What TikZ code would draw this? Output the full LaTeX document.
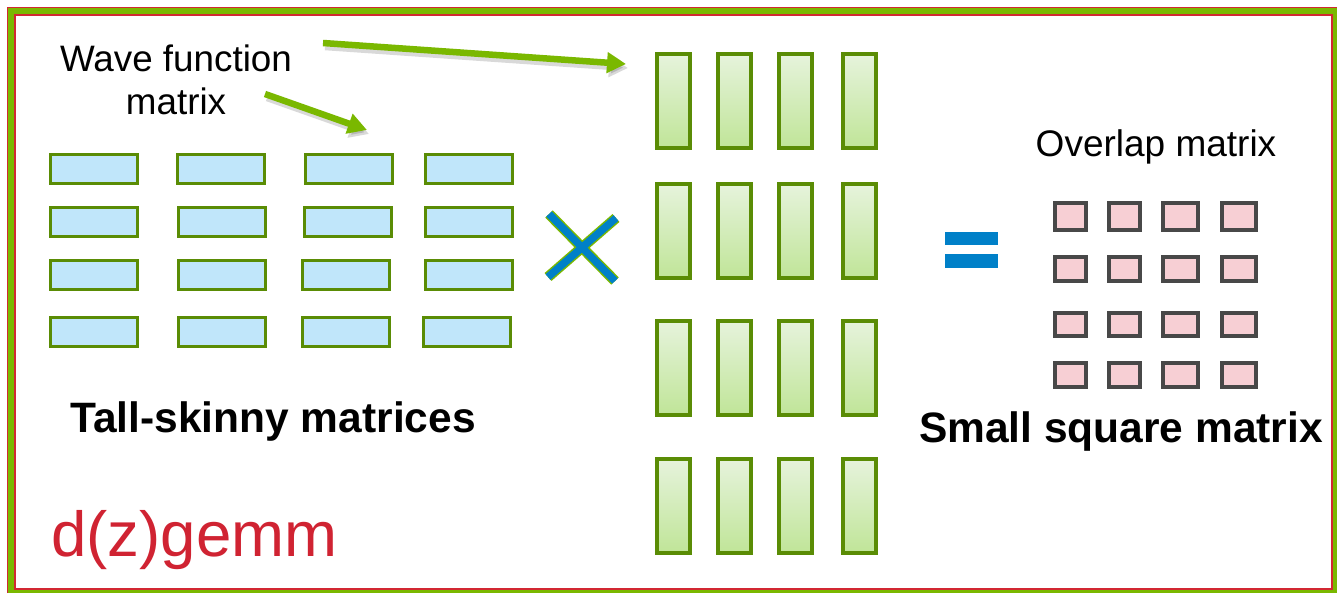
\documentclass[tikz,border=0pt]{standalone}
\usepackage{fontspec}
\setmainfont{Liberation Sans}
\usetikzlibrary{arrows.meta}
\definecolor{framegreen}{RGB}{122,184,0}
\definecolor{framered}{RGB}{210,40,50}
\definecolor{rectgreen}{RGB}{90,140,5}
\definecolor{bluefill}{RGB}{192,230,250}
\definecolor{gtop}{RGB}{230,243,220}
\definecolor{gbot}{RGB}{192,229,152}
\definecolor{pinkfill}{RGB}{247,207,212}
\definecolor{grayedge}{RGB}{72,72,72}
\definecolor{signblue}{RGB}{0,128,200}
\definecolor{arrowgreen}{RGB}{122,184,0}
\definecolor{gemmred}{RGB}{208,35,50}
\tikzset{
  txt/.style={inner sep=0pt, anchor=base},
  bluebox/.style={draw=rectgreen, fill=bluefill, line width=3pt},
  greenbox/.style={draw=rectgreen, line width=3.2pt, top color=gtop, bottom color=gbot},
  pinkbox/.style={draw=grayedge, fill=pinkfill, line width=3.5pt},
  callout/.style={draw=arrowgreen, line width=6.5pt, -{Triangle[length=19pt,width=20pt]}},
  calloutshadow/.style={draw=black, opacity=0.15, line width=6.5pt, -{Triangle[length=19pt,width=20pt]}},
}
\begin{document}
\begin{tikzpicture}[x=1pt,y=-1pt]
\useasboundingbox (0,0) rectangle (1337,593);
% frame
\fill[white] (0,0) rectangle (1337,593);
\fill[framegreen] (7,7) rectangle (1337,593);
\draw[framered, line width=1.5pt] (7.5,593) -- (7.5,7.5) -- (1337,7.5);
\draw[framered, line width=2pt, fill=white] (15,15) rectangle (1332,589);

% blue wave function rectangles (4 x 4)
\foreach \ya/\yb/\xa/\xb/\xc/\xd in {155/184/50/177/305/425, 208/237/50/178/304/425, 261/290/50/178/302/425, 317/346/50/178/302/423}{
  \draw[bluebox] (\xa,\ya) rectangle ++(87,\yb-\ya);
  \draw[bluebox] (\xb,\ya) rectangle ++(87,\yb-\ya);
  \draw[bluebox] (\xc,\ya) rectangle ++(87,\yb-\ya);
  \draw[bluebox] (\xd,\ya) rectangle ++(87,\yb-\ya);
}

% green tall rectangles (4 x 4)
\foreach \ya in {54,184,321,459}{
  \foreach \xa in {657,718,779,843}{
    \draw[greenbox] (\xa,\ya) rectangle ++(33,94);
  }
}

% pink small squares
\foreach \ya/\yb in {203/230, 257/281, 313/336, 363/387}{
  \draw[pinkbox] (1055,\ya) rectangle (1086,\yb);
  \draw[pinkbox] (1109,\ya) rectangle (1140,\yb);
  \draw[pinkbox] (1163,\ya) rectangle (1198,\yb);
  \draw[pinkbox] (1222,\ya) rectangle (1256,\yb);
}

% multiplication sign
\draw[framegreen, line width=10.5pt] (549,214) -- (615,281) (616,218) -- (548,277);
\draw[signblue, line width=7.5pt] (549,214) -- (615,281) (616,218) -- (548,277);

% equals sign
\fill[signblue] (945,232) rectangle (998,245);
\fill[signblue] (945,254) rectangle (998,268);

% texts
\node[txt, font=\fontsize{36.8}{44}\selectfont] (wf1) at (176,72) {Wave function};
\node[txt, font=\fontsize{36.8}{44}\selectfont] (wf2) at (176,115) {matrix};
\node[txt, font=\fontsize{42.5}{50}\selectfont\bfseries] (tsm) at (273,432) {Tall-skinny matrices};
\node[txt, font=\fontsize{37}{44}\selectfont] (ovl) at (1156,157) {Overlap matrix};
\node[txt, font=\fontsize{42.5}{50}\selectfont\bfseries] (ssm) at (1121,442) {Small square matrix};
\node[txt, anchor=base west, text=gemmred, font=\fontsize{63.6}{70}\selectfont] (gemm) at (51,556) {d(z)gemm};

% callout arrows
\coordinate (a1s) at (323,43);
\coordinate (a1e) at (626,64);
\coordinate (a2s) at (265,94);
\coordinate (a2e) at (367,130);
\draw[calloutshadow] ([shift={(2,4)}]a1s) -- ([shift={(2,4)}]a1e);
\draw[calloutshadow] ([shift={(2,4)}]a2s) -- ([shift={(2,4)}]a2e);
\draw[callout] (a1s) -- (a1e);
\draw[callout] (a2s) -- (a2e);
\end{tikzpicture}
\end{document}
